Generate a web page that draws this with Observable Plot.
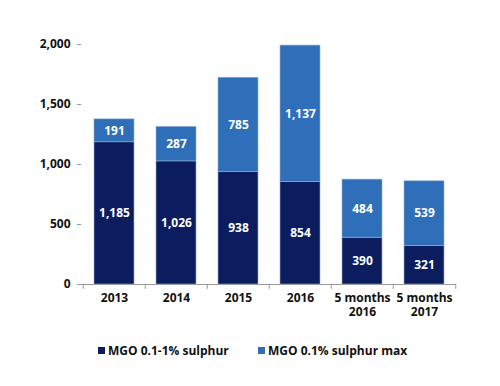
<!DOCTYPE html>
<html>
<head>
<meta charset="utf-8">
<script src="https://cdn.jsdelivr.net/npm/d3@7"></script>
<script src="https://cdn.jsdelivr.net/npm/@observablehq/plot@0.6"></script>
<style>
  body { margin: 0; background: #fff; font-family: "Open Sans", sans-serif; }
  #legend { font-size: 12px; font-weight: 700; color: #111; height: 22px; margin-top: 12px; position: relative; }
  .item { display: flex; align-items: center; position: absolute; top: 0; }
  .sw { width: 7px; height: 7px; margin-right: 3px; }
</style>
</head>
<body>
<div id="chart"></div>
<div id="legend">
  <div class="item" style="left:98px;"><div class="sw" style="background:#0b1d5e"></div>MGO 0.1-1% sulphur</div>
  <div class="item" style="left:258px;"><div class="sw" style="background:#2f6fba"></div>MGO 0.1% sulphur max</div>
</div>
<script>
const categories = ["2013", "2014", "2015", "2016", "5 months\n2016", "5 months\n2017"];
const series = ["MGO 0.1-1% sulphur", "MGO 0.1% sulphur max"];
const lowSulphur = [1185, 1026, 938, 854, 390, 321];
const maxSulphur = [191, 287, 785, 1137, 484, 539];
const yTicks = [0, 500, 1000, 1500, 2000];
const colors = ["#0b1d5e", "#2f6fba"];

const data = [];
categories.forEach((c, i) => {
  data.push({cat: c, series: series[0], value: lowSulphur[i]});
  data.push({cat: c, series: series[1], value: maxSulphur[i]});
});

const fmt = d3.format(",");
const font = "Open Sans, sans-serif";

const chart = Plot.plot({
  width: 500,
  height: 330,
  marginTop: 44,
  marginLeft: 81,
  marginRight: 44,
  marginBottom: 46,
  style: {fontFamily: font, fontSize: "12px", fontWeight: "700", color: "#111"},
  x: {domain: categories, paddingInner: 0.36, paddingOuter: 0.18, label: null},
  y: {domain: [0, 2000], label: null},
  color: {domain: series, range: colors},
  marks: [
    Plot.axisY({ticks: yTicks, tickFormat: fmt, tickSize: 4, tickPadding: 7, stroke: "#999", line: true, label: null, fill: "#111"}),
    Plot.axisX({tickSize: 0, tickPadding: 9, label: null, fill: "#111", tickFormat: d => d.split("\n")[0]}),
    Plot.axisX({tickSize: 0, tickPadding: 23, label: null, fill: "#111", tickFormat: d => d.split("\n")[1] || ""}),
    Plot.ruleY([0], {stroke: "#999"}),
    Plot.ruleX(categories, {x: d => d, y1: 0, y2: -40, dx: -31.25, stroke: "#999"}),
    Plot.ruleX(categories.slice(-1), {x: d => d, y1: 0, y2: -40, dx: 31.25, stroke: "#999"}),
    Plot.barY(data, Plot.stackY({x: "cat", y: "value", fill: "series", stroke: "#8fb0d8", strokeWidth: 0.6, order: series})),
    Plot.text(data, Plot.stackY({x: "cat", y: "value", text: d => fmt(d.value), fill: "white", fontSize: 12, fontWeight: "700", order: series, z: "series"}))
  ]
});
document.getElementById("chart").appendChild(chart);
</script>
</body>
</html>
